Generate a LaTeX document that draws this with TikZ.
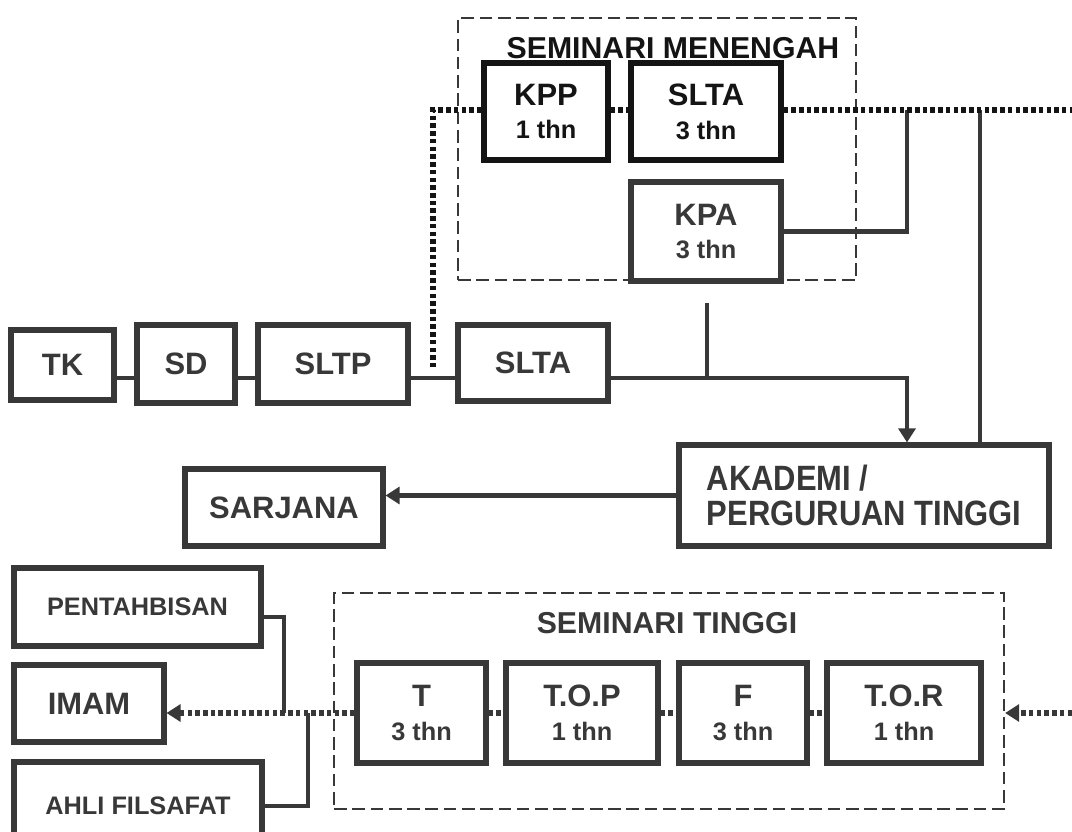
\documentclass[tikz,border=0pt]{standalone}
\usepackage{fontspec}
\setmainfont{Liberation Sans}
\newfontfamily\tallfont[FakeStretch=0.88]{Liberation Sans}
\usetikzlibrary{arrows.meta,positioning,calc}

\definecolor{ink}{HTML}{383838}
\definecolor{inkdark}{HTML}{141414}
\newcommand{\lama}[1]{{\fontsize{18}{24}\selectfont #1 thn}}

\begin{document}
\begin{tikzpicture}[x=0.025cm, y=-0.025cm,
    box/.style 2 args={draw=ink, line width=3.6pt, text=ink, inner sep=0pt,
        minimum width={#1*0.025cm}, minimum height={#2*0.025cm},
        align=center, font=\fontsize{22}{24}\selectfont\bfseries},
    smallbox/.style 2 args={box={#1}{#2}, font=\fontsize{18}{24}\selectfont\bfseries},
    groupbox/.style 2 args={draw=ink, line width=1.6pt, dash pattern=on 9pt off 4pt,
        minimum width={#1*0.025cm}, minimum height={#2*0.025cm}, inner sep=0pt},
    grouptitle/.style={text=ink, font=\fontsize{21.5}{24}\selectfont\bfseries},
    dark/.style={draw=inkdark, text=inkdark},
    conn/.style={draw=ink, line width=3pt},
    dotline/.style={draw=ink, line width=3.6pt, dash pattern=on 3.2pt off 2.3pt},
    tip/.style={-{Triangle[length=10pt,width=12pt]}}]

    \useasboundingbox (0,0) rectangle (1072,832);
    \clip (0,0) rectangle (1072,832);

    % Seminari Menengah
    \node[groupbox={398}{262}] (smen) at (657,149) {};
    \node[grouptitle, text=inkdark] (smentitle) at (673,48) {SEMINARI MENENGAH};
    \node[box={124}{97}, dark] (kpp) at (546,111.5) {KPP\\\lama{1}};
    \node[box={150}{97}, dark] (sltasem) at (706,111.5) {SLTA\\\lama{3}};
    \node[box={150}{99}] (kpa) at (706,231.5) {KPA\\\lama{3}};

    % jalur umum
    \node[box={103}{70}] (tk) at (62.5,365) {TK};
    \node[box={98}{78}] (sd) at (186,364) {SD};
    \node[box={150}{78}] (sltp) at (333,364) {SLTP};
    \node[box={150}{76}] (slta) at (533,363) {SLTA};
    \node[box={370}{101}, align=left, font=\fontsize{25}{25}\selectfont\tallfont\bfseries]
        (akad) at (864,495.5) {AKADEMI /\\PERGURUAN TINGGI};
    \node[box={198}{77}] (sarjana) at (284,507.5) {SARJANA};

    \coordinate (row) at (0,378);
    \coordinate (rightend) at (1072,110);
    \coordinate (dotend) at (433,367);
    \coordinate (kpajoin) at (907,110);
    \coordinate (akadjoin) at (980,110);
    \coordinate (kpatail) at (707,303);

    \draw[conn] (tk.east |- row) -- (sd.west |- row);
    \draw[conn] (sd.east |- row) -- (sltp.west |- row);
    \draw[conn] (sltp.east |- row) -- (slta.west |- row);
    \draw[conn, tip] (slta.east |- row) -| (akad.north -| kpajoin);
    \draw[conn] (kpatail) -- (kpatail |- row);
    \draw[conn] (kpa.east) -| (kpajoin);
    \draw[conn] (akadjoin) -- (akadjoin |- akad.north);
    \draw[conn, tip] (akad.west) -- (akad.west -| sarjana.east);

    \draw[dotline, draw=inkdark] (kpp.west |- rightend) -| (dotend);
    \draw[dotline, draw=inkdark] (kpp.east |- rightend) -- (sltasem.west |- rightend);
    \draw[dotline, draw=inkdark] (sltasem.east |- rightend) -- (rightend);

    % Seminari Tinggi
    \node[groupbox={670}{216}] (stinggi) at (669,701) {};
    \node[grouptitle] (stitle) at (667,623) {SEMINARI TINGGI};
    \node[box={129}{100}] (t) at (421.5,713) {T\\\lama{3}};
    \node[box={152}{100}] (top) at (582,713) {T.O.P\\\lama{1}};
    \node[box={128}{100}] (f) at (743,713) {F\\\lama{3}};
    \node[box={154}{100}] (tor) at (904,713) {T.O.R\\\lama{1}};

    \node[smallbox={247}{78}] (pentah) at (137.5,607) {PENTAHBISAN};
    \node[box={150}{77}] (imam) at (89,703.5) {IMAM};
    \node[smallbox={248}{88}, text depth=0pt] (ahli) at (138,806) {AHLI FILSAFAT};

    \coordinate (torin) at (1072,713);
    \coordinate (pentahjoin) at (284,713);
    \coordinate (ahlijoin) at (308,713);

    \draw[dotline] (t.east) -- (top.west);
    \draw[dotline] (top.east) -- (f.west);
    \draw[dotline] (f.east) -- (tor.west);
    \draw[dotline, tip] (torin) -- (stinggi.east |- torin);
    \draw[dotline, tip] (t.west) -- (t.west -| imam.east);
    \draw[conn] ([yshift=-7pt]pentah.east) -| (pentahjoin);
    \draw[conn] (ahli.east) -| (ahlijoin);
\end{tikzpicture}
\end{document}
